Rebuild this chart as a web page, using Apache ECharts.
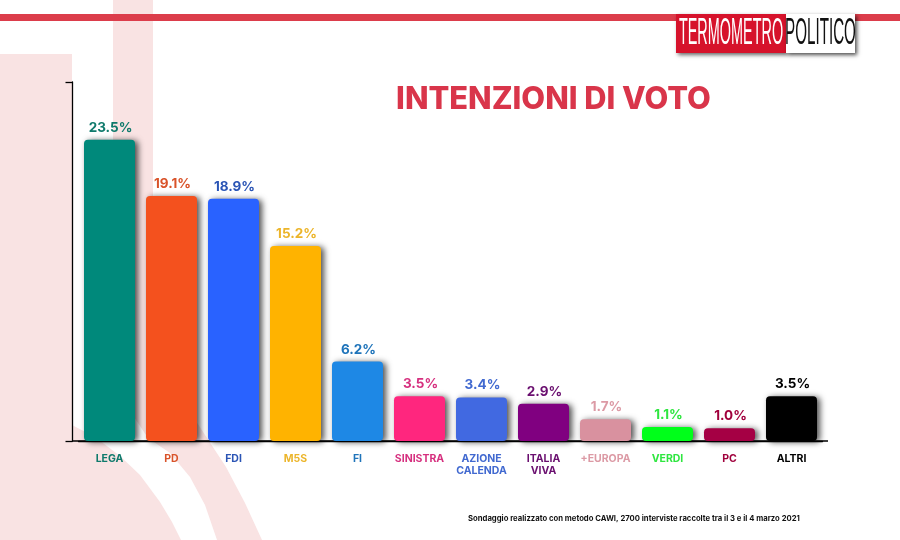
<!DOCTYPE html>
<html><head><meta charset="utf-8">
<style>html,body{margin:0;padding:0;background:#fff}#c{width:900px;height:540px}</style>
<script src="https://cdn.jsdelivr.net/npm/echarts@6/dist/echarts.min.js"></script>
</head><body><div id="c"></div>
<script>
const categories = ['LEGA','PD','FDI','M5S','FI','SINISTRA','AZIONE\nCALENDA','ITALIA\nVIVA','+EUROPA','VERDI','PC','ALTRI'];
const values = [23.5,19.1,18.9,15.2,6.2,3.5,3.4,2.9,1.7,1.1,1.0,3.5];
const barColors = ['#00897b','#f4511e','#2962ff','#ffb300','#1e88e5','#ff267e','#4169e1','#800080','#d9919f','#00ff1a','#a50044','#000000'];
const textColors = ['#0f7a6c','#d9532a','#2b55b5','#ecb52a','#1f74ba','#d6307f','#4169d0','#6a0f6f','#dc9aa5','#2fe640','#a0003c','#000000'];
const FONT = 'Inter, "Noto Sans", sans-serif';
const PINK = '#f9e3e3';
const bgLeft = [[0,54],[72,54],[72,425],[95,437],[120,456],[140,475],[160,502],[172,522],[181,540],[0,540]];
const bgStrip = [[113,0],[153,0],[153,300],[157,340],[170,375],[190,412],[226,467],[245,503],[262,540],[217,540],[205,505],[190,477],[170,453],[148,438],[128,408],[117,375],[113,335]];

const chart = echarts.init(document.getElementById('c'), null, {renderer:'canvas'});
chart.setOption({
  backgroundColor:'#ffffff',
  animation:false,
  grid:{left:78.5,right:77.5,top:82,bottom:99},
  xAxis:{
    type:'category',data:categories,
    axisLine:{show:true,lineStyle:{color:'#000',width:1.3}},
    axisTick:{show:false},
    axisLabel:{
      interval:0,margin:12,fontFamily:FONT,fontWeight:700,fontSize:10.5,lineHeight:12,
      color:(v,i)=>textColors[i]
    }
  },
  yAxis:{
    type:'value',min:0,max:28,interval:28,offset:6,
    splitLine:{show:false},
    axisLine:{show:true,lineStyle:{color:'#000',width:1.3}},
    axisTick:{show:true,length:7,lineStyle:{color:'#000',width:1.3}},
    axisLabel:{show:false}
  },
  series:[{
    type:'bar',z:5,barWidth:51,
    data:values.map((v,i)=>({
      value:v,
      itemStyle:{color:barColors[i],borderRadius:4,shadowColor:'rgba(0,0,0,0.7)',shadowBlur:6,shadowOffsetX:3,shadowOffsetY:1},
      label:{color:textColors[i]}
    })),
    label:{show:true,position:'top',distance:5,offset:[1,0],fontFamily:FONT,fontWeight:700,fontSize:13.5,
      formatter:p=>p.value.toFixed(1)+'%'}
  }],
  graphic:{elements:[
    {type:'polygon',z:-10,shape:{points:bgLeft},style:{fill:PINK}},
    {type:'polygon',z:-10,shape:{points:bgStrip},style:{fill:PINK}},
    {type:'rect',z:-5,shape:{x:0,y:14,width:900,height:7},style:{fill:'#dc3d4b'}},
    {type:'line',z:2,shape:{x1:72,y1:441,x2:828,y2:441},style:{stroke:'#000',lineWidth:1.3}},
    {type:'text',z:10,x:553.5,y:100,style:{text:'INTENZIONI DI VOTO',x:0,y:0,align:'center',verticalAlign:'middle',font:'800 30.8px '+FONT,fill:'#d9354a'}},
    {type:'text',z:10,style:{text:'Sondaggio realizzato con metodo CAWI, 2700 interviste raccolte tra il 3 e il 4 marzo 2021',x:468,y:519,align:'left',verticalAlign:'middle',font:'700 7.7px '+FONT,fill:'#111'}},
    {type:'rect',z:10,shape:{x:676,y:14,width:110,height:39},style:{fill:'#d6122b',shadowColor:'rgba(0,0,0,0.6)',shadowBlur:4,shadowOffsetX:2,shadowOffsetY:2}},
    {type:'rect',z:10,shape:{x:786,y:14,width:69,height:39},style:{fill:'#ffffff',shadowColor:'rgba(0,0,0,0.7)',shadowBlur:4,shadowOffsetX:2,shadowOffsetY:2}},
    {type:'text',z:11,x:731,y:34,scaleX:.39,style:{text:'TERMOMETRO',x:0,y:0,align:'center',verticalAlign:'middle',font:'400 37px "Liberation Sans Narrow", sans-serif',fill:'#fff'}},
    {type:'text',z:11,x:820.5,y:34,scaleX:.41,style:{text:'POLITICO',x:0,y:0,align:'center',verticalAlign:'middle',font:'400 37px "Liberation Sans Narrow", sans-serif',fill:'#111'}}
  ]}
});
</script></body></html>
